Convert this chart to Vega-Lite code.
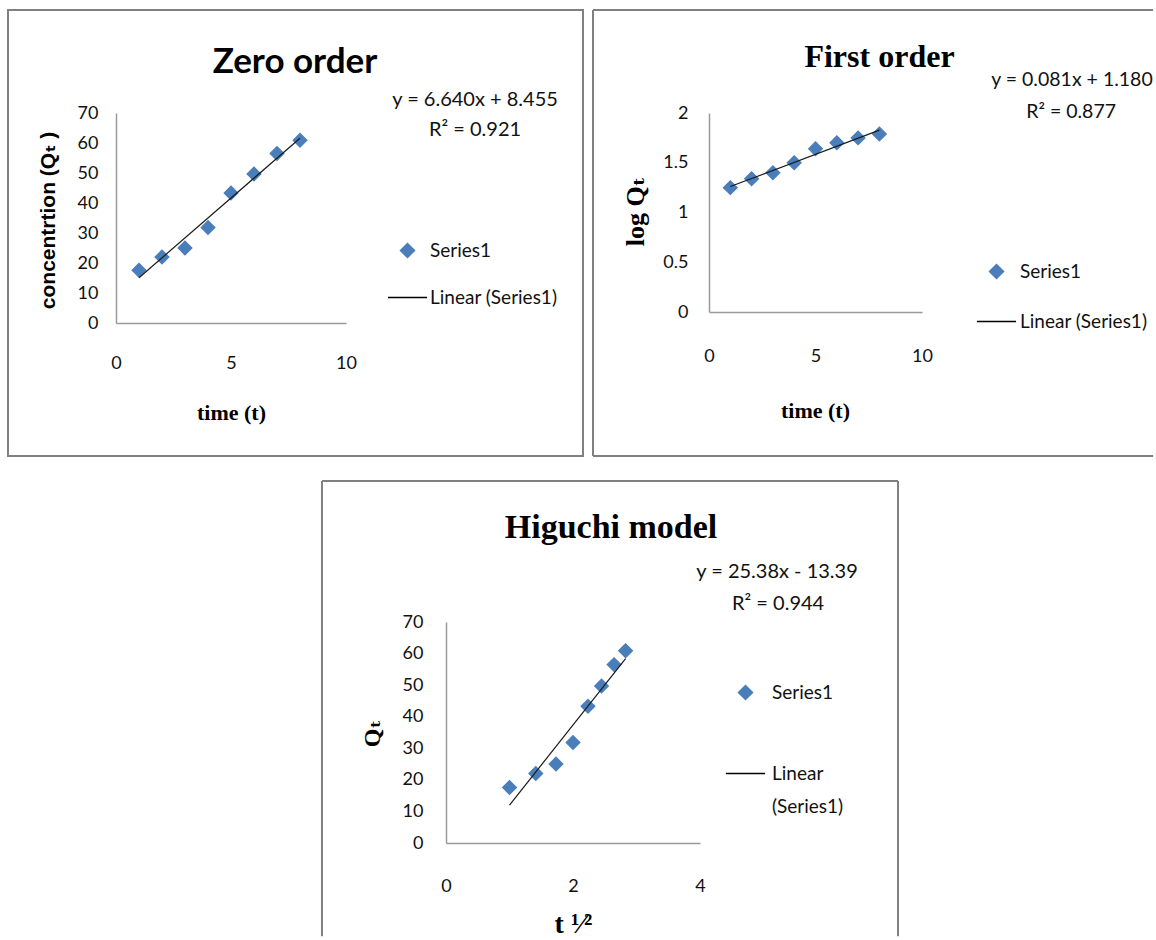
{
  "$schema": "https://vega.github.io/schema/vega-lite/v6.json",
  "padding": {"left": 6, "top": 9, "right": 0, "bottom": 0},
  "background": "white",
  "config": {
    "view": {"stroke": null},
    "style": {"guide-label": {"lineHeight": 33}},
    "axis": {"domainColor": "#9a9a9a", "domainWidth": 1.5, "ticks": false, "tickSize": 0, "grid": false,
      "labelFont": "Lato, sans-serif", "labelFontSize": 18, "labelColor": "#111111",
      "titleColor": "#000000", "labelFlush": false, "labelOverlap": false, "labelSeparation": -40, "labelBound": false}
  },
  "vconcat": [
    {
      "hconcat": [
        {
          "width": 230, "height": 210,
          "title": {"text": "Zero order", "font": "Lato, sans-serif", "fontSize": 35, "fontWeight": "bold", "color": "#000000", "anchor": "middle", "frame": "group", "dx": 64, "baseline": "alphabetic", "offset": -99},
          "layer": [
            {"data": {"values": [
                {"t": 1, "q": 17.6, "series": "Series1"}, {"t": 2, "q": 22.0, "series": "Series1"},
                {"t": 3, "q": 25.0, "series": "Series1"}, {"t": 4, "q": 31.8, "series": "Series1"},
                {"t": 5, "q": 43.3, "series": "Series1"}, {"t": 6, "q": 49.7, "series": "Series1"},
                {"t": 7, "q": 56.5, "series": "Series1"}, {"t": 8, "q": 60.9, "series": "Series1"}]},
              "mark": {"type": "point", "filled": false, "fill": "#4a7ebb", "strokeWidth": 1.2, "opacity": 1, "size": 190},
              "encoding": {
                "x": {"field": "t", "type": "quantitative", "scale": {"domain": [0, 10], "nice": false},
                  "axis": {"values": [0, 5, 10], "labelExpr": "'' + datum.value", "labelOverlap": false, "labelSeparation": -40, "labelPadding": 31, "title": "time (t)", "titleFont": "Liberation Serif, DejaVu Serif, serif", "titleFontSize": 22, "titleFontWeight": "bold", "titleX": 115, "titleY": 89, "titleAlign": "center", "titleBaseline": "middle"}},
                "y": {"field": "q", "type": "quantitative", "scale": {"domain": [0, 70], "nice": false},
                  "axis": {"values": [0, 10, 20, 30, 40, 50, 60, 70], "tickCount": 8, "labelExpr": "'' + datum.value", "labelOverlap": false, "labelSeparation": -40, "labelPadding": 18, "title": "concentrtion (Qₜ )", "titleFont": "Liberation Sans, DejaVu Sans, sans-serif", "titleFontSize": 21, "titleFontWeight": "bold", "titleX": -68, "titleY": 107, "titleAlign": "center", "titleBaseline": "middle", "titleAngle": -90}},
                "color": {"field": "series", "type": "nominal", "scale": {"domain": ["Series1", "Linear (Series1)"], "range": ["#4a7ebb", "#000000"]},
                  "legend": {"orient": "none", "title": null, "padding": 0, "legendX": 282, "legendY": 128, "rowPadding": 27, "labelOffset": 13, "labelLimit": 400,
                    "labelFont": "Lato, sans-serif", "labelFontSize": 19, "labelColor": "#111111", "symbolSize": 196}},
                "shape": {"field": "series", "type": "nominal", "scale": {"domain": ["Series1", "Linear (Series1)"], "range": ["diamond", "M-2.8,0H2.8"]},
                  "legend": {"orient": "none", "title": null, "padding": 0, "legendX": 282, "legendY": 128, "rowPadding": 27, "labelOffset": 13, "labelLimit": 400,
                    "labelFont": "Lato, sans-serif", "labelFontSize": 19, "labelColor": "#111111", "symbolSize": 196}}
              }},
            {"data": {"values": [{}]}, "mark": {"type": "rect", "filled": false, "color": "#808080", "strokeWidth": 2},
              "encoding": {"x": {"datum": -4.696}, "x2": {"datum": 20.304}, "y": {"datum": -44.33}, "y2": {"datum": 104.33}}},
            {"data": {"values": [{"t": 1, "q": 15.095}, {"t": 8, "q": 61.575}]},
              "mark": {"type": "line", "color": "#1a1a1a", "strokeWidth": 1.2},
              "encoding": {"x": {"field": "t", "type": "quantitative"}, "y": {"field": "q", "type": "quantitative"}}},
            {"data": {"values": [{}]}, "mark": {"type": "text", "text": "y = 6.640x + 8.455", "font": "Lato, sans-serif", "fontSize": 20, "align": "center", "baseline": "middle", "color": "#111111"},
              "encoding": {"x": {"datum": 15.61}, "y": {"datum": 74.33}}},
            {"data": {"values": [{}]}, "mark": {"type": "text", "text": "R² = 0.921", "font": "Lato, sans-serif", "fontSize": 20, "align": "center", "baseline": "middle", "color": "#111111"},
              "encoding": {"x": {"datum": 15.61}, "y": {"datum": 64.33}}}
          ]
        },
        {
          "width": 213, "height": 199,
          "title": {"text": "First order", "font": "Liberation Serif, DejaVu Serif, serif", "fontSize": 32, "fontWeight": "bold", "color": "#000000", "anchor": "middle", "frame": "group", "dx": 64, "baseline": "alphabetic", "offset": -90},
          "layer": [
            {"data": {"values": [
                {"t": 1, "logq": 1.25, "series": "Series1"}, {"t": 2, "logq": 1.34, "series": "Series1"},
                {"t": 3, "logq": 1.40, "series": "Series1"}, {"t": 4, "logq": 1.50, "series": "Series1"},
                {"t": 5, "logq": 1.64, "series": "Series1"}, {"t": 6, "logq": 1.70, "series": "Series1"},
                {"t": 7, "logq": 1.75, "series": "Series1"}, {"t": 8, "logq": 1.79, "series": "Series1"}]},
              "mark": {"type": "point", "filled": false, "fill": "#4a7ebb", "strokeWidth": 1.2, "opacity": 1, "size": 190},
              "encoding": {
                "x": {"field": "t", "type": "quantitative", "scale": {"domain": [0, 10], "nice": false},
                  "axis": {"values": [0, 5, 10], "labelExpr": "'' + datum.value", "labelOverlap": false, "labelSeparation": -40, "labelPadding": 35, "title": "time (t)", "titleFont": "Liberation Serif, DejaVu Serif, serif", "titleFontSize": 22, "titleFontWeight": "bold", "titleX": 106, "titleY": 98, "titleAlign": "center", "titleBaseline": "middle"}},
                "y": {"field": "logq", "type": "quantitative", "scale": {"domain": [0, 2], "nice": false},
                  "axis": {"values": [0, 0.5, 1, 1.5, 2], "labelExpr": "'' + datum.value", "labelOverlap": false, "labelSeparation": -40, "labelPadding": 21, "title": "log Qₜ", "titleFont": "Liberation Serif, DejaVu Serif, serif", "titleFontSize": 26, "titleFontWeight": "bold", "titleX": -74, "titleY": 98, "titleAlign": "center", "titleBaseline": "middle", "titleAngle": -90}},
                "color": {"field": "series", "type": "nominal", "scale": {"domain": ["Series1", "Linear (Series1)"], "range": ["#4a7ebb", "#000000"]},
                  "legend": {"orient": "none", "title": null, "padding": 0, "legendX": 278, "legendY": 149, "rowPadding": 30, "labelOffset": 14, "labelLimit": 400,
                    "labelFont": "Lato, sans-serif", "labelFontSize": 19, "labelColor": "#111111", "symbolSize": 196}},
                "shape": {"field": "series", "type": "nominal", "scale": {"domain": ["Series1", "Linear (Series1)"], "range": ["diamond", "M-2.8,0H2.8"]},
                  "legend": {"orient": "none", "title": null, "padding": 0, "legendX": 278, "legendY": 149, "rowPadding": 30, "labelOffset": 14, "labelLimit": 400,
                    "labelFont": "Lato, sans-serif", "labelFontSize": 19, "labelColor": "#111111", "symbolSize": 196}}
              }},
            {"data": {"values": [{}]}, "mark": {"type": "rule", "color": "#808080", "strokeWidth": 2},
              "encoding": {"x": {"datum": -5.446}, "y": {"datum": 3.035}, "y2": {"datum": -1.447}}},
            {"data": {"values": [{}]}, "mark": {"type": "rule", "color": "#808080", "strokeWidth": 2},
              "encoding": {"x": {"datum": -5.446}, "x2": {"datum": 20.85}, "y": {"datum": 3.035}}},
            {"data": {"values": [{}]}, "mark": {"type": "rule", "color": "#808080", "strokeWidth": 2},
              "encoding": {"x": {"datum": -5.446}, "x2": {"datum": 20.85}, "y": {"datum": -1.447}}},
            {"data": {"values": [{"t": 1, "logq": 1.261}, {"t": 8, "logq": 1.828}]},
              "mark": {"type": "line", "color": "#1a1a1a", "strokeWidth": 1.2},
              "encoding": {"x": {"field": "t", "type": "quantitative"}, "y": {"field": "logq", "type": "quantitative"}}},
            {"data": {"values": [{}]}, "mark": {"type": "text", "text": "y = 0.081x + 1.180", "font": "Lato, sans-serif", "fontSize": 19.5, "align": "center", "baseline": "middle", "color": "#111111"},
              "encoding": {"x": {"datum": 17.04}, "y": {"datum": 2.332}}},
            {"data": {"values": [{}]}, "mark": {"type": "text", "text": "R² = 0.877", "font": "Lato, sans-serif", "fontSize": 19.5, "align": "center", "baseline": "middle", "color": "#111111"},
              "encoding": {"x": {"datum": 17.0}, "y": {"datum": 2.01}}}
          ]
        }
      ],
      "spacing": 363,
      "bounds": "flush",
      "resolve": {"scale": {"color": "independent", "shape": "independent", "x": "independent", "y": "independent"}, "legend": {"color": "independent", "shape": "independent"}}
    },
    {
      "hconcat": [
        {"width": 310, "height": 221, "data": {"values": []}, "mark": "point"},
        {
          "width": 254, "height": 221,
          "title": {"text": "Higuchi model", "font": "Liberation Serif, DejaVu Serif, serif", "fontSize": 34, "fontWeight": "bold", "color": "#000000", "anchor": "middle", "frame": "group", "dx": 38, "baseline": "alphabetic", "offset": -92},
          "layer": [
            {"data": {"values": [
                {"rt": 1.0, "q": 17.6, "series": "Series1"}, {"rt": 1.414, "q": 22.0, "series": "Series1"},
                {"rt": 1.732, "q": 25.0, "series": "Series1"}, {"rt": 2.0, "q": 31.8, "series": "Series1"},
                {"rt": 2.236, "q": 43.3, "series": "Series1"}, {"rt": 2.449, "q": 49.7, "series": "Series1"},
                {"rt": 2.646, "q": 56.5, "series": "Series1"}, {"rt": 2.828, "q": 60.9, "series": "Series1"}]},
              "mark": {"type": "point", "filled": false, "fill": "#4a7ebb", "strokeWidth": 1.2, "opacity": 1, "size": 190},
              "encoding": {
                "x": {"field": "rt", "type": "quantitative", "scale": {"domain": [0, 4], "nice": false},
                  "axis": {"values": [0, 2, 4], "labelExpr": "'' + datum.value", "labelOverlap": false, "labelSeparation": -40, "labelPadding": 34, "title": "t ¹⁄²", "titleFont": "Liberation Serif, DejaVu Serif, serif", "titleFontSize": 28, "titleFontWeight": "bold", "titleX": 127, "titleY": 81, "titleAlign": "center", "titleBaseline": "middle"}},
                "y": {"field": "q", "type": "quantitative", "scale": {"domain": [0, 70], "nice": false},
                  "axis": {"values": [0, 10, 20, 30, 40, 50, 60, 70], "tickCount": 8, "labelExpr": "'' + datum.value", "labelOverlap": false, "labelSeparation": -40, "labelPadding": 23, "title": "Qₜ", "titleFont": "Liberation Serif, DejaVu Serif, serif", "titleFontSize": 24, "titleFontWeight": "bold", "titleX": -74, "titleY": 111, "titleAlign": "center", "titleBaseline": "middle", "titleAngle": -90}},
                "color": {"field": "series", "type": "nominal", "scale": {"domain": ["Series1", "Linear (Series1)"], "range": ["#4a7ebb", "#000000"]},
                  "legend": {"orient": "none", "title": null, "padding": 0, "legendX": 290, "legendY": 61, "rowPadding": 61, "labelOffset": 17, "labelLimit": 400,
                    "labelExpr": "datum.label == 'Linear (Series1)' ? ['Linear', '(Series1)'] : datum.label",
                    "labelFont": "Lato, sans-serif", "labelFontSize": 19, "labelColor": "#111111", "symbolSize": 196}},
                "shape": {"field": "series", "type": "nominal", "scale": {"domain": ["Series1", "Linear (Series1)"], "range": ["diamond", "M-2.8,0H2.8"]},
                  "legend": {"orient": "none", "title": null, "padding": 0, "legendX": 290, "legendY": 61, "rowPadding": 61, "labelOffset": 17, "labelLimit": 400,
                    "labelExpr": "datum.label == 'Linear (Series1)' ? ['Linear', '(Series1)'] : datum.label",
                    "labelFont": "Lato, sans-serif", "labelFontSize": 19, "labelColor": "#111111", "symbolSize": 196}}
              }},
            {"data": {"values": [{}]}, "mark": {"type": "rule", "color": "#808080", "strokeWidth": 2},
              "encoding": {"x": {"datum": -1.953}, "y": {"datum": 114.66}, "y2": {"datum": -29.5}}},
            {"data": {"values": [{}]}, "mark": {"type": "rule", "color": "#808080", "strokeWidth": 2},
              "encoding": {"x": {"datum": 7.118}, "y": {"datum": 114.66}, "y2": {"datum": -29.5}}},
            {"data": {"values": [{}]}, "mark": {"type": "rule", "color": "#808080", "strokeWidth": 2},
              "encoding": {"x": {"datum": -1.953}, "x2": {"datum": 7.118}, "y": {"datum": 114.66}}},
            {"data": {"values": [{"rt": 1.0, "q": 11.99}, {"rt": 2.828, "q": 58.385}]},
              "mark": {"type": "line", "color": "#1a1a1a", "strokeWidth": 1.2},
              "encoding": {"x": {"field": "rt", "type": "quantitative"}, "y": {"field": "q", "type": "quantitative"}}},
            {"data": {"values": [{}]}, "mark": {"type": "text", "text": "y = 25.38x - 13.39", "font": "Lato, sans-serif", "fontSize": 20, "align": "center", "baseline": "middle", "color": "#111111"},
              "encoding": {"x": {"datum": 5.213}, "y": {"datum": 85.84}}},
            {"data": {"values": [{}]}, "mark": {"type": "text", "text": "R² = 0.944", "font": "Lato, sans-serif", "fontSize": 20, "align": "center", "baseline": "middle", "color": "#111111"},
              "encoding": {"x": {"datum": 5.23}, "y": {"datum": 75.7}}}
          ]
        }
      ],
      "spacing": 20,
      "bounds": "flush",
      "resolve": {"scale": {"color": "independent", "shape": "independent", "x": "independent", "y": "independent"}, "legend": {"color": "independent", "shape": "independent"}}
    }
  ],
  "spacing": 509,
  "bounds": "flush",
  "resolve": {"scale": {"color": "independent", "shape": "independent", "x": "independent", "y": "independent"}, "legend": {"color": "independent", "shape": "independent"}}
}
